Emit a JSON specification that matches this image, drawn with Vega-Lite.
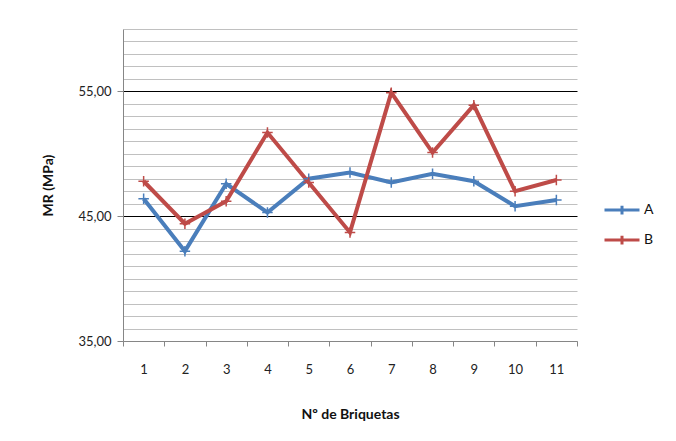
{
  "$schema": "https://vega.github.io/schema/vega-lite/v6.json",
  "autosize": "none",
  "width": 454,
  "height": 312,
  "padding": {"left": 123, "top": 29, "right": 99, "bottom": 100},
  "background": "white",
  "config": {
    "view": {"stroke": null},
    "font": "Lato",
    "axis": {"labelFont": "Lato", "titleFont": "Lato", "labelColor": "#222", "titleColor": "#111", "domainColor": "#868686", "tickColor": "#868686"},
    "legend": {"labelFont": "Lato"}
  },
  "data": {
    "values": [
      {"n": 1, "serie": "A", "v": 46.4}, {"n": 2, "serie": "A", "v": 42.2}, {"n": 3, "serie": "A", "v": 47.6},
      {"n": 4, "serie": "A", "v": 45.3}, {"n": 5, "serie": "A", "v": 48.0}, {"n": 6, "serie": "A", "v": 48.5},
      {"n": 7, "serie": "A", "v": 47.7}, {"n": 8, "serie": "A", "v": 48.4}, {"n": 9, "serie": "A", "v": 47.8},
      {"n": 10, "serie": "A", "v": 45.8}, {"n": 11, "serie": "A", "v": 46.3},
      {"n": 1, "serie": "B", "v": 47.8}, {"n": 2, "serie": "B", "v": 44.4}, {"n": 3, "serie": "B", "v": 46.2},
      {"n": 4, "serie": "B", "v": 51.7}, {"n": 5, "serie": "B", "v": 47.7}, {"n": 6, "serie": "B", "v": 43.7},
      {"n": 7, "serie": "B", "v": 54.9}, {"n": 8, "serie": "B", "v": 50.1}, {"n": 9, "serie": "B", "v": 53.9},
      {"n": 10, "serie": "B", "v": 47.0}, {"n": 11, "serie": "B", "v": 47.9}
    ]
  },
  "encoding": {
    "x": {
      "field": "n", "type": "quantitative",
      "scale": {"domain": [0.5, 11.5], "nice": false, "zero": false},
      "axis": {
        "title": "Nº de Briquetas",
        "values": [0.5, 1, 1.5, 2, 2.5, 3, 3.5, 4, 4.5, 5, 5.5, 6, 6.5, 7, 7.5, 8, 8.5, 9, 9.5, 10, 10.5, 11, 11.5],
        "labelExpr": "datum.value % 1 == 0 ? datum.value : ''",
        "tickOpacity": {"condition": {"test": "datum.value % 1 != 0", "value": 1}, "value": 0},
        "grid": false,
        "tickSize": 5,
        "labelPadding": 17,
        "labelFontSize": 13,
        "labelFlush": false,
        "labelOverlap": false,
        "titleFontSize": 14,
        "titleFontWeight": "bold",
        "titlePadding": 31
      }
    },
    "y": {
      "field": "v", "type": "quantitative",
      "scale": {"domain": [35, 60], "nice": false, "zero": false},
      "axis": {
        "title": "MR (MPa)",
        "values": [35, 36, 37, 38, 39, 40, 41, 42, 43, 44, 45, 46, 47, 48, 49, 50, 51, 52, 53, 54, 55, 56, 57, 58, 59, 60],
        "labelExpr": "datum.value % 10 == 5 ? replace(format(datum.value, '.2f'), '.', ',') : ''",
        "tickOpacity": {"condition": {"test": "datum.value % 10 == 5", "value": 1}, "value": 0},
        "gridColor": {"condition": {"test": "datum.value == 45 || datum.value == 55", "value": "#000000"}, "value": "#c0c0c0"},
        "gridWidth": 1,
        "grid": true,
        "tickSize": 6,
        "labelPadding": 6,
        "labelFontSize": 13,
        "labelOverlap": false,
        "labelFlush": false,
        "titleFontSize": 14,
        "titleFontWeight": "bold",
        "titlePadding": 22
      }
    },
    "color": {
      "field": "serie", "type": "nominal",
      "scale": {"domain": ["A", "B"], "range": ["#4A7EBB", "#BE4B48"]}
    }
  },
  "layer": [
    {
      "mark": {"type": "line", "strokeWidth": 4},
      "encoding": {
        "color": {
          "field": "serie", "type": "nominal",
          "scale": {"domain": ["A", "B"], "range": ["#4A7EBB", "#BE4B48"]},
          "legend": {
            "title": null,
            "orient": "none",
            "legendX": 480,
            "legendY": 162,
            "symbolType": "M-1,0H1M0,-0.25V0.25",
            "symbolSize": 1225,
            "symbolStrokeWidth": 3,
            "labelFontSize": 14,
            "labelColor": "#111",
            "labelOffset": 3,
            "rowPadding": 0
          }
        }
      }
    },
    {
      "mark": {"type": "point", "shape": "M-1,0H1M0,-1V1", "filled": false, "size": 110, "strokeWidth": 1.5, "opacity": 1},
      "encoding": {
        "color": {"field": "serie", "type": "nominal", "scale": {"domain": ["A", "B"], "range": ["#4A7EBB", "#BE4B48"]}, "legend": null}
      }
    }
  ]
}
